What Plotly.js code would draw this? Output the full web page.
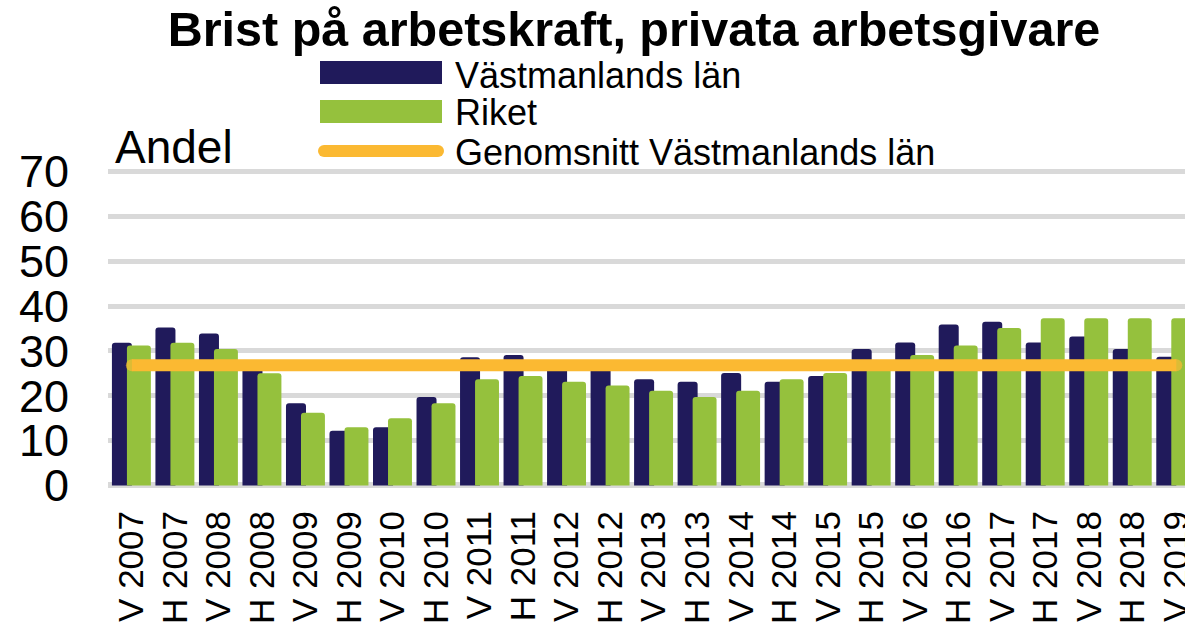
<!DOCTYPE html>
<html><head><meta charset="utf-8">
<script src="https://cdn.plot.ly/plotly-3.0.1.min.js"></script>
<style>html,body{margin:0;padding:0;background:#fff;} #chart{width:1185px;height:629px;}</style>
</head><body><div id="chart"></div>
<script>
// ---- data ----
const categories = ["V 2007","H 2007","V 2008","H 2008","V 2009","H 2009","V 2010","H 2010",
  "V 2011","H 2011","V 2012","H 2012","V 2013","H 2013","V 2014","H 2014","V 2015","H 2015",
  "V 2016","H 2016","V 2017","H 2017","V 2018","H 2018","V 2019"];
const vastmanland = [31.8, 35.2, 33.9, 27.0, 18.3, 12.2, 13.0, 19.7, 28.6, 29.1, 27.0, 26.5,
  23.7, 23.1, 25.1, 23.1, 24.4, 30.4, 31.9, 35.9, 36.5, 31.9, 33.2, 30.4, 28.7];
const riket = [31.2, 31.8, 30.4, 25.0, 16.2, 13.0, 15.0, 18.3, 23.7, 24.4, 23.1, 22.3,
  21.1, 19.7, 21.1, 23.7, 25.1, 27.5, 29.1, 31.2, 35.1, 37.3, 37.3, 37.3, 37.3];
const genomsnittVastmanland = 26.8;
const yTickValues = [0, 10, 20, 30, 40, 50, 60, 70];
const seriesNames = ["Västmanlands län", "Riket", "Genomsnitt Västmanlands län"];
const chartTitle = "Brist på arbetskraft, privata arbetsgivare";
const yLabel = "Andel";

// ---- styling ----
const W = 1185, H = 629;
const M = {l: 108, r: 0, t: 168, b: 140};
const plotW = W - M.l - M.r, plotH = H - M.t - M.b;
const px2x = p => (p - M.l) / plotW;
const py2y = p => (M.t + plotH - p) / plotH;
const FONT = "Liberation Sans, Arial, sans-serif";
const NAVY = "#201a5b", GREEN = "#95c13d", ORANGE = "#fbb932", GRID = "#d9d9d9";

const avgLine = categories.map(() => genomsnittVastmanland);
const endMarkers = categories.map((c, i) => (i === 0 || i === categories.length - 1) ? 12 : 0);

const traces = [
  {type: "bar", x: categories, y: vastmanland, name: seriesNames[0],
   marker: {color: NAVY, line: {width: 0}}, offset: -0.46, width: 0.46, hoverinfo: "x+y"},
  {type: "bar", x: categories, y: riket, name: seriesNames[1],
   marker: {color: GREEN, line: {width: 0}}, offset: -0.115, width: 0.55, hoverinfo: "x+y"},
  {type: "scatter", mode: "lines+markers", x: categories, y: avgLine, name: seriesNames[2],
   line: {color: ORANGE, width: 12}, marker: {color: ORANGE, size: endMarkers, line: {width: 0}}, hoverinfo: "y"}
];

const legendRows = [75, 112, 152];
const shapes = [
  {type: "rect", xref: "paper", yref: "paper", x0: px2x(320), x1: px2x(442), y0: py2y(61), y1: py2y(84),
   fillcolor: NAVY, line: {width: 0}},
  {type: "rect", xref: "paper", yref: "paper", x0: px2x(320), x1: px2x(442), y0: py2y(100), y1: py2y(123),
   fillcolor: GREEN, line: {width: 0}},
  {type: "rect", xref: "paper", yref: "paper", x0: px2x(324), x1: px2x(438), y0: py2y(145), y1: py2y(157),
   fillcolor: ORANGE, line: {width: 0}},
  {type: "circle", xref: "paper", yref: "paper", xsizemode: "pixel", ysizemode: "pixel",
   xanchor: px2x(324), yanchor: py2y(151), x0: -6, x1: 6, y0: -6, y1: 6, fillcolor: ORANGE, line: {width: 0}},
  {type: "circle", xref: "paper", yref: "paper", xsizemode: "pixel", ysizemode: "pixel",
   xanchor: px2x(438), yanchor: py2y(151), x0: -6, x1: 6, y0: -6, y1: 6, fillcolor: ORANGE, line: {width: 0}}
];

const annotations = [
  {text: yLabel, xref: "paper", yref: "paper", x: px2x(113), y: py2y(147), xanchor: "left", yanchor: "middle",
   showarrow: false, font: {family: FONT, size: 46, color: "#000"}}
].concat(seriesNames.map((n, i) => ({
   text: n, xref: "paper", yref: "paper", x: px2x(453), y: py2y(legendRows[i]), xanchor: "left", yanchor: "middle",
   showarrow: false, font: {family: FONT, size: 36, color: "#000"}})));

const layout = {
  width: W, height: H, margin: M,
  paper_bgcolor: "#fff", plot_bgcolor: "#fff",
  showlegend: false, barmode: "overlay", barcornerradius: 3,
  font: {family: FONT, color: "#000"},
  title: {text: "<b>" + chartTitle + "</b>", xref: "container", yref: "container",
          x: 634 / W, xanchor: "center", y: 1 - 29 / H, yanchor: "middle",
          font: {family: FONT, size: 48.5, color: "#000"}},
  xaxis: {type: "category", range: [-0.55, 24.2], tickangle: -90, showgrid: false,
          ticks: "", showline: false, ticklabelstandoff: 14,
          tickfont: {family: FONT, size: 35, color: "#000"}, fixedrange: true},
  yaxis: {range: [-0.8, 70.8], tickmode: "array", tickvals: yTickValues, ticktext: yTickValues.map(String),
          showgrid: true, gridcolor: GRID, gridwidth: 5,
          zeroline: true, zerolinecolor: GRID, zerolinewidth: 6, showline: false, ticks: "",
          ticklabelstandoff: 38, tickfont: {family: FONT, size: 45, color: "#000"}, fixedrange: true},
  shapes: shapes, annotations: annotations
};

Plotly.newPlot("chart", traces, layout, {displayModeBar: false, staticPlot: true});
</script>
</body></html>
